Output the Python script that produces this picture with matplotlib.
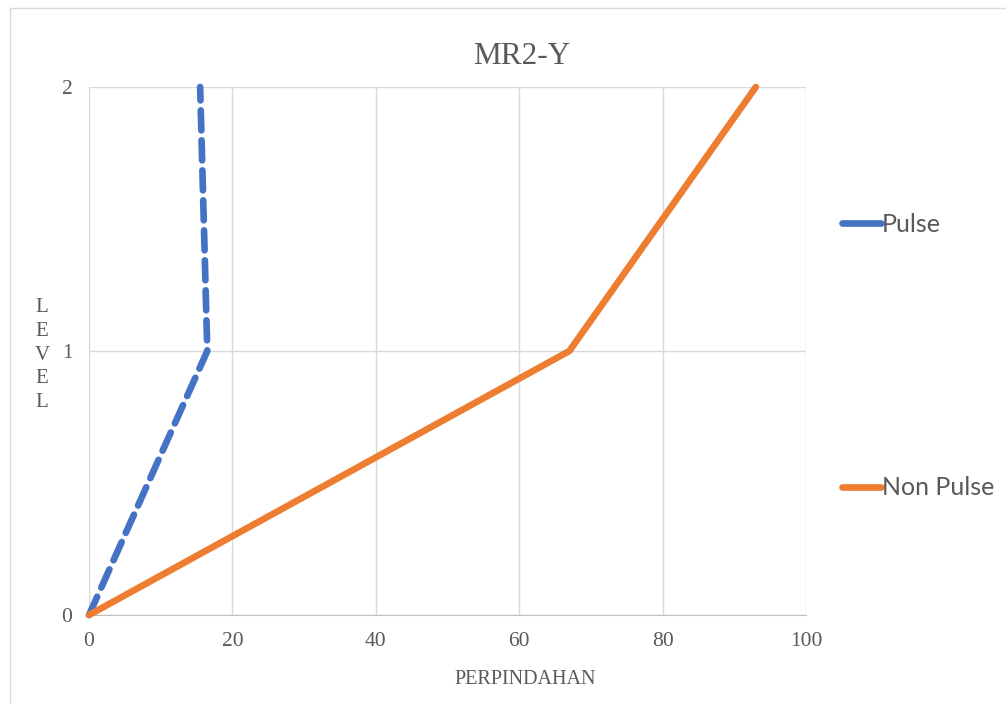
import matplotlib.pyplot as plt
from matplotlib.lines import Line2D
from matplotlib.patches import Rectangle

level = [0, 1, 2]
pulse = [0, 16.5, 15.5]
non_pulse = [0, 67, 93]
x_ticks = [0, 20, 40, 60, 80, 100]
y_ticks = [0, 1, 2]

blue = '#4472C4'
orange = '#ED7D31'
grey_txt = '#595959'

fig = plt.figure(figsize=(10.06, 7.04), dpi=100)
ax = fig.add_axes([89/1006, 1-615/704, (806-89)/1006, (615-87)/704])

# border of chart area
fig.patches.append(Rectangle((10/1006, -0.01), 1.0, 1-8/704+0.01, transform=fig.transFigure,
                             fill=False, edgecolor='#D9D9D9', linewidth=1))

ax.plot(pulse, level, color=blue, lw=4.8, ls=(0, (3, 1.5)), dash_capstyle='round',
        solid_capstyle='round', clip_on=False, zorder=3)
ax.plot(non_pulse, level, color=orange, lw=4.8, solid_capstyle='round', clip_on=False, zorder=3)

ax.set_xlim(0, 100)
ax.set_ylim(0, 2)
ax.set_xticks(x_ticks)
ax.set_yticks(y_ticks)
ax.grid(True, color='#D9D9D9', lw=1)
ax.set_axisbelow(True)
for s in ['top', 'right']:
    ax.spines[s].set_visible(False)
ax.spines['left'].set_color('#D9D9D9')
ax.spines['bottom'].set_color('#BFBFBF')
ax.tick_params(length=0, labelsize=15.5, labelcolor=grey_txt, pad=12)
for lab in ax.get_xticklabels() + ax.get_yticklabels():
    lab.set_fontfamily('Liberation Serif')

fig.text(522/1006, 1-57/704, 'MR2-Y', fontfamily='Liberation Serif', fontsize=22.5,
         color=grey_txt, ha='center', va='center')
fig.text(525/1006, 1-680/704, 'PERPINDAHAN', fontfamily='Liberation Serif', fontsize=14.5,
         color=grey_txt, ha='center', va='center')
fig.text(42/1006, 1-355/704, 'L\nE\nV\nE\nL', fontfamily='Liberation Serif', fontsize=15,
         color=grey_txt, ha='center', va='center', linespacing=1.35, multialignment='center')

handles = [Line2D([], [], color=blue, lw=4.8, solid_capstyle='round'),
           Line2D([], [], color=orange, lw=4.8, solid_capstyle='round')]
fig.legend(handles, ['Pulse', 'Non Pulse'], loc='upper left', bbox_to_anchor=(842/1006, 1-213/704),
           frameon=False, prop={'family': 'Lato', 'size': 18}, labelcolor=grey_txt,
           handlelength=1.55, handletextpad=0.05, labelspacing=9.62, borderpad=0, borderaxespad=0)

fig.savefig('out.png', dpi=100)
